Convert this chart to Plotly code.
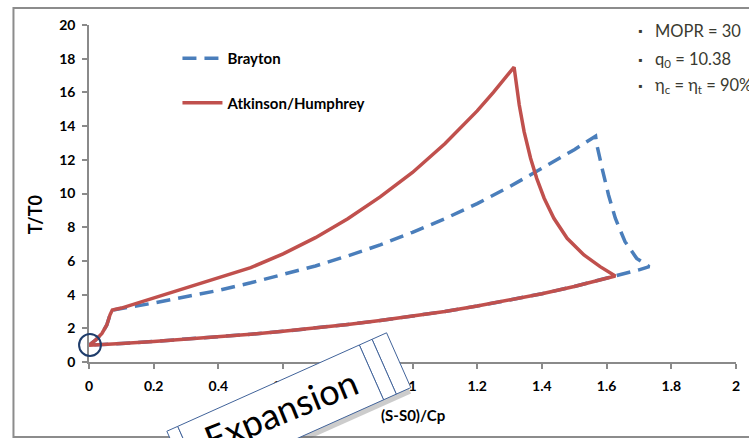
import math
import plotly.graph_objects as go

# ---------------- data ----------------
# Atkinson / Humphrey cycle
atk_s = [0.0, 0.02, 0.04, 0.055, 0.065, 0.072,
         0.1, 0.2, 0.3, 0.4, 0.5, 0.6, 0.7, 0.8, 0.9, 1.0, 1.1, 1.2, 1.25, 1.314,
         1.33, 1.345, 1.365, 1.384, 1.407, 1.437, 1.478, 1.53, 1.58, 1.627,
         1.5, 1.4, 1.3, 1.2, 1.1, 1.0, 0.9, 0.8, 0.7, 0.6, 0.5, 0.4, 0.3, 0.2, 0.1, 0.0]
atk_T = [1.0, 1.3, 1.7, 2.2, 2.8, 3.08,
         3.2, 3.8, 4.35, 4.95, 5.6, 6.42, 7.38, 8.5, 9.8, 11.25, 12.95, 14.9, 16.0, 17.5,
         15.25, 13.67, 12.09, 10.9, 9.72, 8.53, 7.34, 6.35, 5.66, 5.1,
         4.48, 4.05, 3.67, 3.32, 3.0, 2.72, 2.46, 2.23, 2.01, 1.82, 1.65, 1.49, 1.35, 1.22, 1.1, 1.0]

# Brayton cycle
bra_s = [0.0, 0.02, 0.04, 0.055, 0.065, 0.072,
         0.2, 0.3, 0.4, 0.5, 0.6, 0.7, 0.8, 0.9, 1.0, 1.1, 1.2, 1.3, 1.4, 1.5, 1.566,
         1.57, 1.586, 1.606, 1.627, 1.657, 1.693, 1.732,
         1.7, 1.627, 1.5, 1.4, 1.3, 1.2, 1.1, 1.0, 0.9, 0.8, 0.7, 0.6, 0.5, 0.4, 0.3, 0.2, 0.1, 0.0]
bra_T = [1.0, 1.3, 1.7, 2.2, 2.8, 3.08,
         3.5, 3.85, 4.25, 4.7, 5.2, 5.7, 6.3, 6.95, 7.7, 8.5, 9.4, 10.4, 11.5, 12.6, 13.4,
         12.88, 11.5, 9.91, 8.53, 7.14, 6.15, 5.66,
         5.47, 5.1, 4.48, 4.05, 3.67, 3.32, 3.0, 2.72, 2.46, 2.23, 2.01, 1.82, 1.65, 1.49, 1.35, 1.22, 1.1, 1.0]

x_ticks = [0, 0.2, 0.4, 0.6, 0.8, 1, 1.2, 1.4, 1.6, 1.8, 2]
x_tick_text = ["0", "0.2", "0.4", "0.6", "0.8", "1", "1.2", "1.4", "1.6", "1.8", "2"]
y_ticks = [0, 2, 4, 6, 8, 10, 12, 14, 16, 18, 20]

notes = ["MOPR = 30", "q<sub>0</sub> = 10.38", "η<sub>c</sub> = η<sub>t</sub> = 90%"]

# ---------------- layout geometry ----------------
W, H = 749, 438
L, R, T, B = 89, 740, 25, 362
FONT = "Lato"
BLUE = "#4a7ebb"
RED = "#c0504d"


def px(x):
    return (x - L) / (R - L)


def py(y):
    return (B - y) / (B - T)


fig = go.Figure()
fig.add_trace(go.Scatter(x=bra_s, y=bra_T, mode="lines", name="Brayton",
                         legendgroup="b",
                         line=dict(color=BLUE, width=3.5, dash="14px,8px")))
fig.add_trace(go.Scatter(x=atk_s, y=atk_T, mode="lines", name="Atkinson/Humphrey",
                         legendgroup="a",
                         line=dict(color=RED, width=3.5)))

tickfont = dict(family=FONT, size=14, color="black", weight="bold")
fig.update_xaxes(range=[0, 2], tickvals=x_ticks, ticktext=x_tick_text,
                 showline=True, linecolor="#8a8a8a", linewidth=1.5,
                 ticks="outside", ticklen=5, tickcolor="#8a8a8a", tickwidth=1.5,
                 showgrid=False, zeroline=False, tickfont=tickfont,
                 ticklabelstandoff=5)
fig.update_yaxes(range=[0, 20], tickvals=y_ticks,
                 showline=True, linecolor="#8a8a8a", linewidth=1.5,
                 ticks="outside", ticklen=5, tickcolor="#8a8a8a", tickwidth=1.5,
                 showgrid=False, zeroline=False, tickfont=tickfont,
                 ticklabelstandoff=4)

shapes = []
# outer chart frame
shapes.append(dict(type="rect", xref="paper", yref="paper",
                   x0=px(13), x1=px(770), y0=py(437), y1=py(8),
                   line=dict(color="#8c8c8c", width=2), layer="below"))
# circle marking the start state
shapes.append(dict(type="circle", xref="paper", yref="paper",
                   x0=px(79), x1=px(101), y0=py(356), y1=py(334),
                   line=dict(color="#1f3d6b", width=2)))

# "Expansion" decoration: stacked rotated boxes
ang = math.radians(24)
u = (math.cos(ang), -math.sin(ang))
v = (math.sin(ang), math.cos(ang))


def rect_path(tl, w, h, dx=0, dy=0):
    pts = [tl,
           (tl[0] + w * u[0], tl[1] + w * u[1]),
           (tl[0] + w * u[0] + h * v[0], tl[1] + w * u[1] + h * v[1]),
           (tl[0] + h * v[0], tl[1] + h * v[1])]
    return "M" + " L".join(f"{px(p[0] + dx):.5f},{py(p[1] + dy):.5f}" for p in pts) + " Z"


TR = (361, 345)
BW, BH = 200, 60
TL = (TR[0] - BW * u[0], TR[1] - BW * u[1])
box_line = dict(color="#41639a", width=1)
# shadow
shapes.append(dict(type="path", xref="paper", yref="paper", layer="above",
                   path=rect_path((TL[0] - 12 * u[0], TL[1] - 12 * u[1]), BW + 40, BH, 2, 5),
                   fillcolor="rgba(110,110,110,0.35)", line=dict(width=0)))
# back panels
shapes.append(dict(type="path", xref="paper", yref="paper", layer="above",
                   path=rect_path((TL[0] - 12 * u[0], TL[1] - 12 * u[1]), 12, BH),
                   fillcolor="white", line=box_line))
shapes.append(dict(type="path", xref="paper", yref="paper", layer="above",
                   path=rect_path((TR[0] + 14 * u[0], TR[1] + 14 * u[1]), 16, BH),
                   fillcolor="white", line=box_line))
shapes.append(dict(type="path", xref="paper", yref="paper", layer="above",
                   path=rect_path(TR, 14, BH),
                   fillcolor="white", line=box_line))
# front box
shapes.append(dict(type="path", xref="paper", yref="paper", layer="above",
                   path=rect_path(TL, BW, BH),
                   fillcolor="white", line=box_line))

annotations = []
# axis titles
annotations.append(dict(text="T/T0", xref="paper", yref="paper", x=px(35), y=py(215),
                        xanchor="center", yanchor="middle",
                        textangle=-90, showarrow=False,
                        font=dict(family=FONT, size=18, color="black", weight="bold")))
annotations.append(dict(text="(S-S0)/Cp", xref="paper", yref="paper", x=px(415), y=py(415),
                        xanchor="center", yanchor="middle", showarrow=False,
                        font=dict(family=FONT, size=15, color="black", weight="bold")))
# Expansion label
annotations.append(dict(text="Expansion", xref="paper", yref="paper", x=px(282), y=py(410),
                        xanchor="center", yanchor="middle",
                        textangle=-22, showarrow=False,
                        font=dict(family=FONT, size=36, color="black")))
# bullet notes
note_y = [31, 59, 85]
for txt, yy in zip(notes, note_y):
    annotations.append(dict(text="▪", xref="paper", yref="paper", x=px(639), y=py(yy),
                            xanchor="left", yanchor="middle", showarrow=False,
                            font=dict(family=FONT, size=11, color="#3a3a30")))
    annotations.append(dict(text=txt, xref="paper", yref="paper", x=px(656), y=py(yy),
                            xanchor="left", yanchor="middle", showarrow=False,
                            font=dict(family=FONT, size=16.5, color="#3a3a30")))

fig.update_layout(
    width=W, height=H,
    margin=dict(l=L, r=W - R, t=T, b=H - B, pad=0),
    plot_bgcolor="white", paper_bgcolor="white",
    showlegend=True,
    legend=dict(x=px(178), y=py(42), xanchor="left", yanchor="top",
                bgcolor="rgba(0,0,0,0)", tracegroupgap=22, itemwidth=40,
                font=dict(family=FONT, size=15, color="black", weight="bold")),
    shapes=shapes, annotations=annotations,
)

fig.write_html("out.html")
